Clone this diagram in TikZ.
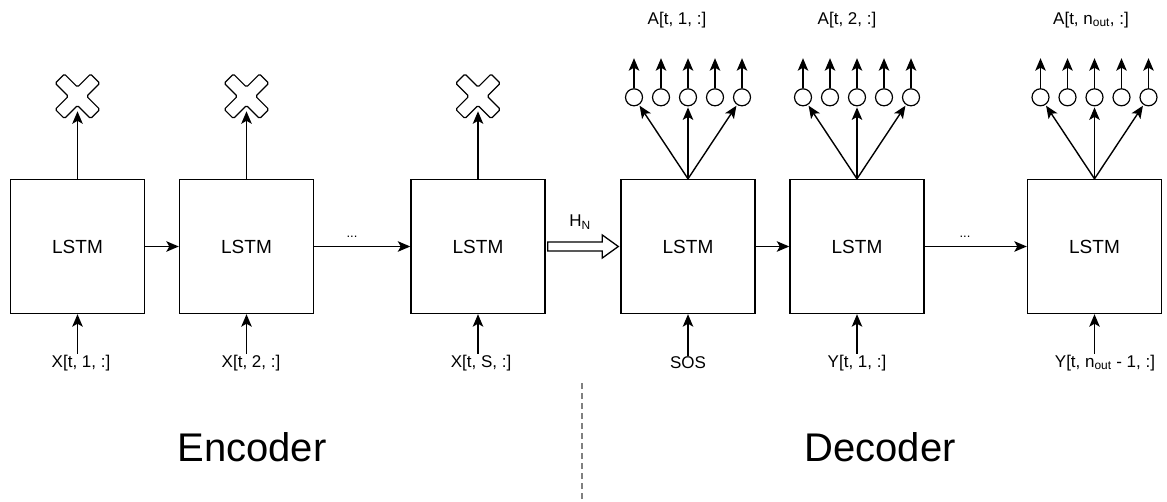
\documentclass[tikz,border=0pt]{standalone}
\usepackage{fontspec}
\setmainfont{Liberation Sans}
\usetikzlibrary{arrows.meta,calc}
\tikzset{
  xmark/.pic={
    \draw[line width=1.2pt, fill=white, rounded corners=1.5pt, rotate=45]
      (6.5,25) -- (6.5,6.5) -- (25,6.5) -- (25,-6.5) -- (6.5,-6.5) -- (6.5,-25)
      -- (-6.5,-25) -- (-6.5,-6.5) -- (-25,-6.5) -- (-25,6.5) -- (-6.5,6.5)
      -- (-6.5,25) -- cycle;
  }
}
\begin{document}
\begin{tikzpicture}[x=1pt,y=1pt,
  box/.style={draw, line width=1.4pt, minimum width=134, minimum height=134, inner sep=0, font=\fontsize{19}{22}\selectfont},
  lbl/.style={inner sep=1pt, font=\fontsize{17}{20}\selectfont},
  dots/.style={inner sep=0pt, anchor=base, font=\fontsize{13}{15}\selectfont},
  arr/.style={line width=1.4pt, -{Stealth[length=12.5pt,width=10.5pt,inset=3pt]}},
  outc/.style={circle, draw, line width=1.2pt, minimum size=17, inner sep=0},
  big/.style={anchor=base, inner sep=0pt, font=\fontsize{40}{48}\selectfont}]
\useasboundingbox (0,0) rectangle (1167,501);

% boxes
\node[box] (b1) at (77.5,254.5) {LSTM};
\node[box] (b2) at (246.5,254.5) {LSTM};
\node[box] (b3) at (478,254.5) {LSTM};
\node[box] (b4) at (688,254.5) {LSTM};
\node[box] (b5) at (857,254.5) {LSTM};
\node[box] (b6) at (1094.5,254.5) {LSTM};

% horizontal connectors
\draw[arr] (b1) -- (b2);
\draw[arr] (b2) -- (b3);
\node[dots] (d1) at (352,263) {...};
\draw[arr] (b4) -- (b5);
\draw[arr] (b5) -- (b6);
\node[dots] (d2) at (965,263) {...};

% H_N hollow arrow
\draw[line width=1.3pt, fill=white]
  ([xshift=2pt,yshift=4.5pt]b3.east) -- ([xshift=-18pt,yshift=4.5pt]b4.west)
  -- ([xshift=-18pt,yshift=11.5pt]b4.west) -- ([xshift=-2pt]b4.west)
  -- ([xshift=-18pt,yshift=-11.5pt]b4.west) -- ([xshift=-18pt,yshift=-4.5pt]b4.west)
  -- ([xshift=2pt,yshift=-4.5pt]b3.east) -- cycle;
\node[lbl] (hn) at (580,279) {H\textsubscript{N}};

% encoder outputs (discarded)
\foreach \b in {b1,b2,b3}{
  \coordinate (\b x) at ($(\b.north)+(0,82.5)$);
  \pic at (\b x) {xmark};
  \coordinate (\b t) at ($(\b.north)+(0,67.5)$);
  \draw[arr] (\b.north) -- (\b t);
}

% decoder outputs
\foreach \b in {b4,b5,b6}{
  \foreach \dx [count=\i] in {-54,-27,0,27,54}{
    \node[outc] (\b c\i) at ($(\b.north)+(\dx,81.5)$) {};
    \coordinate (\b a\i) at ($(\b c\i.north)+(0,30)$);
    \draw[arr] (\b c\i) -- (\b a\i);
  }
  \draw[arr, shorten >=1pt] (\b.north) -- (\b c1);
  \draw[arr, shorten >=1pt] (\b.north) -- (\b c3);
  \draw[arr, shorten >=1pt] (\b.north) -- (\b c5);
}

% top labels
\node[lbl] (A1) at (677,481) {A[t, 1, :]};
\node[lbl] (A2) at (847,481) {A[t, 2, :]};
\node[lbl] (A3) at (1091,481) {A[t, n\textsubscript{out}, :]};

% inputs
\node[lbl] (in1) at (81,138) {X[t, 1, :]};
\node[lbl] (in2) at (251,138) {X[t, 2, :]};
\node[lbl] (in3) at (481,138) {X[t, S, :]};
\node[lbl] (in4) at (688,138) {SOS};
\node[lbl] (in5) at (857,138) {Y[t, 1, :]};
\node[lbl] (in6) at (1105,138) {Y[t, n\textsubscript{out} - 1, :]};
\foreach \i in {1,...,6}{
  \draw[arr] (b\i.south |- in\i.north) -- (b\i.south);
}

% captions
\node[big] (enc) at (252,40) {Encoder};
\node[big] (dec) at (880,40) {Decoder};

% separator
\coordinate (dtop) at (582,118);
\coordinate (dbot) at (582,0);
\draw[gray, line width=2.5pt, dash pattern=on 6pt off 4pt] (dtop) -- (dbot);
\end{tikzpicture}
\end{document}
